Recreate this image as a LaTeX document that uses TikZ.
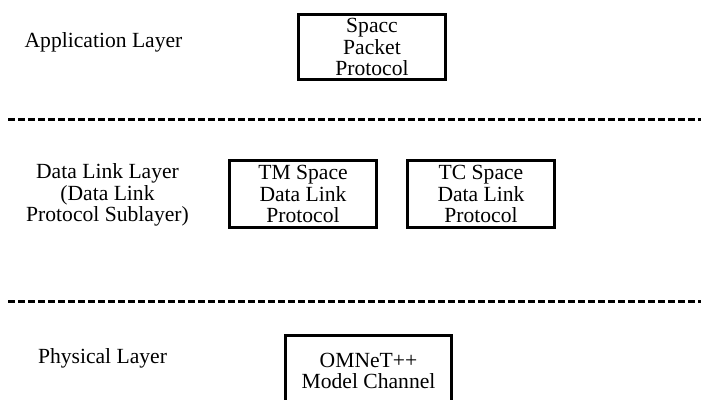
\documentclass[tikz,border=0pt]{standalone}
\usepackage{fontspec}
\setmainfont{Liberation Serif}
\usetikzlibrary{positioning}

\begin{document}
\begin{tikzpicture}[
    x=0.5pt, y=-0.5pt,
    layer/.style={align=center, inner sep=0pt, font=\fontsize{10.8}{10.8}\selectfont},
    proto/.style={rectangle, draw, line width=1.5pt, minimum width=73.5pt, minimum height=33.5pt, align=center, inner sep=1pt, font=\fontsize{10.8}{10.6}\selectfont},
    sepline/.style={line width=1.5pt, dash pattern=on 3.5pt off 1.5pt}
]
\useasboundingbox (0,0) rectangle (701,400);

% Layer names
\node[layer] (applbl) at (103.5,42) {Application Layer};
\node[layer] (dlllbl) at (107.5,195) {Data Link Layer\\(Data Link\\Protocol Sublayer)};
\node[layer] (phylbl) at (102.5,358) {Physical Layer};

% Protocols
\node[proto, minimum height=32.5pt] (spp) at (372,47) {Spacc\\Packet\\Protocol};
\node[proto] (tmsdl) at (303,194) {TM Space\\Data Link\\Protocol};
\node[proto, right=14pt of tmsdl] (tcsdl) {TC Space\\Data Link\\Protocol};
\node[proto, minimum width=83pt, minimum height=35pt, anchor=north] (omnet) at (368.5,334.5) {OMNeT++\\Model Channel};

% Layer borders
\coordinate (sepAw) at (8,120);
\coordinate (sepAe) at (701,120);
\coordinate (sepBw) at (8,302);
\coordinate (sepBe) at (701,302);
\draw[sepline] (sepAw) -- (sepAe);
\draw[sepline] (sepBw) -- (sepBe);
\end{tikzpicture}
\end{document}
